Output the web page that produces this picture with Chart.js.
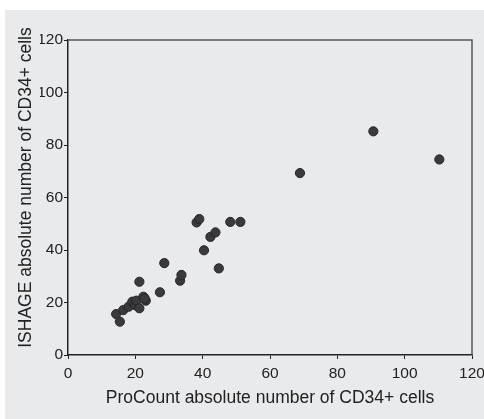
<!DOCTYPE html>
<html>
<head>
<meta charset="utf-8">
<script src="https://cdn.jsdelivr.net/npm/chart.js@4.4.0/dist/chart.umd.min.js"></script>
<style>
  html, body { margin: 0; padding: 0; background: #ffffff; }
  #wrap { position: absolute; left: 5px; top: 10px; width: 479px; height: 409px; background: #e9eaec; }
</style>
</head>
<body>
<div id="wrap"><canvas id="myChart" width="479" height="409"></canvas></div>
<script>
// ProCount (x) vs ISHAGE (y), absolute CD34+ counts
const procount = [14.3, 15.4, 16.4, 18.0, 19.1, 19.9, 20.3, 21.2, 21.2, 22.4, 23.1, 22.8, 27.3, 28.6, 33.3, 33.7, 38.2, 39.0, 40.4, 42.3, 43.8, 44.8, 48.2, 51.2, 68.9, 90.7, 110.3];
const ishage   = [15.6, 12.7, 17.1, 18.4, 20.3, 19.0, 20.7, 27.9, 17.8, 22.2, 20.7, 21.5, 23.9, 35.0, 28.3, 30.5, 50.5, 51.8, 39.9, 45.0, 46.7, 33.0, 50.7, 50.7, 69.3, 85.2, 74.5];
const xTicks = [0, 20, 40, 60, 80, 100, 120];
const yTicks = [0, 20, 40, 60, 80, 100, 120];
const tituloY = 'ISHAGE absolute number of CD34+ cells';

const puntos = procount.map((x, i) => ({x: x, y: ishage[i]}));

const familia = 'Liberation Sans, Arial, Helvetica, sans-serif';
const fuente = {family: familia, size: 15.5};
const fuenteTitulo = {family: familia, size: 17.5};

// marco completo + titulo vertical (un poco arriba del centro, como el original)
const marco = {
  id: 'marco',
  afterDraw(chart) {
    const a = chart.chartArea;
    const c = chart.ctx;
    c.save();
    c.strokeStyle = '#555';
    c.lineWidth = 1.5;
    c.beginPath();
    c.moveTo(a.left, a.top);
    c.lineTo(a.right, a.top);
    c.lineTo(a.right, a.bottom);
    c.stroke();
    c.translate(21, a.top + (a.bottom - a.top) / 2 - 10);
    c.rotate(-Math.PI / 2);
    c.fillStyle = '#222';
    c.font = fuenteTitulo.size + 'px ' + familia;
    c.textAlign = 'center';
    c.textBaseline = 'middle';
    c.fillText(tituloY, 0, 0);
    c.restore();
  }
};

new Chart(document.getElementById('myChart'), {
  type: 'scatter',
  data: {
    datasets: [{
      data: puntos,
      backgroundColor: '#3a3a3c',
      borderColor: '#262628',
      borderWidth: 1,
      pointRadius: 4.6,
      pointHoverRadius: 4.6
    }]
  },
  options: {
    responsive: false,
    animation: false,
    layout: {padding: {top: 30, right: 12, left: 35, bottom: 0}},
    plugins: {legend: {display: false}, tooltip: {enabled: false}},
    scales: {
      x: {
        type: 'linear',
        min: 0, max: 120,
        afterBuildTicks: s => { s.ticks = xTicks.map(v => ({value: v})); },
        afterFit: s => { s.height = 64; s.paddingLeft = 0; s.paddingRight = 0; },
        grid: {drawOnChartArea: false, drawTicks: true, tickLength: 4, color: '#222'},
        border: {color: '#222', width: 1.5},
        ticks: {color: '#222', font: fuente, padding: 5, maxRotation: 0},
        title: {display: true, text: 'ProCount absolute number of CD34+ cells', color: '#222',
                font: fuenteTitulo, padding: {top: 4, bottom: 10}}
      },
      y: {
        type: 'linear',
        min: 0, max: 120,
        afterBuildTicks: s => { s.ticks = yTicks.map(v => ({value: v})); },
        afterFit: s => { s.width = 28; s.paddingTop = 0; s.paddingBottom = 0; },
        grid: {drawOnChartArea: false, drawTicks: true, tickLength: 4, color: '#222'},
        border: {color: '#222', width: 1.5},
        ticks: {color: '#222', font: fuente, padding: 1},
        title: {display: false}
      }
    }
  },
  plugins: [marco]
});
</script>
</body>
</html>
